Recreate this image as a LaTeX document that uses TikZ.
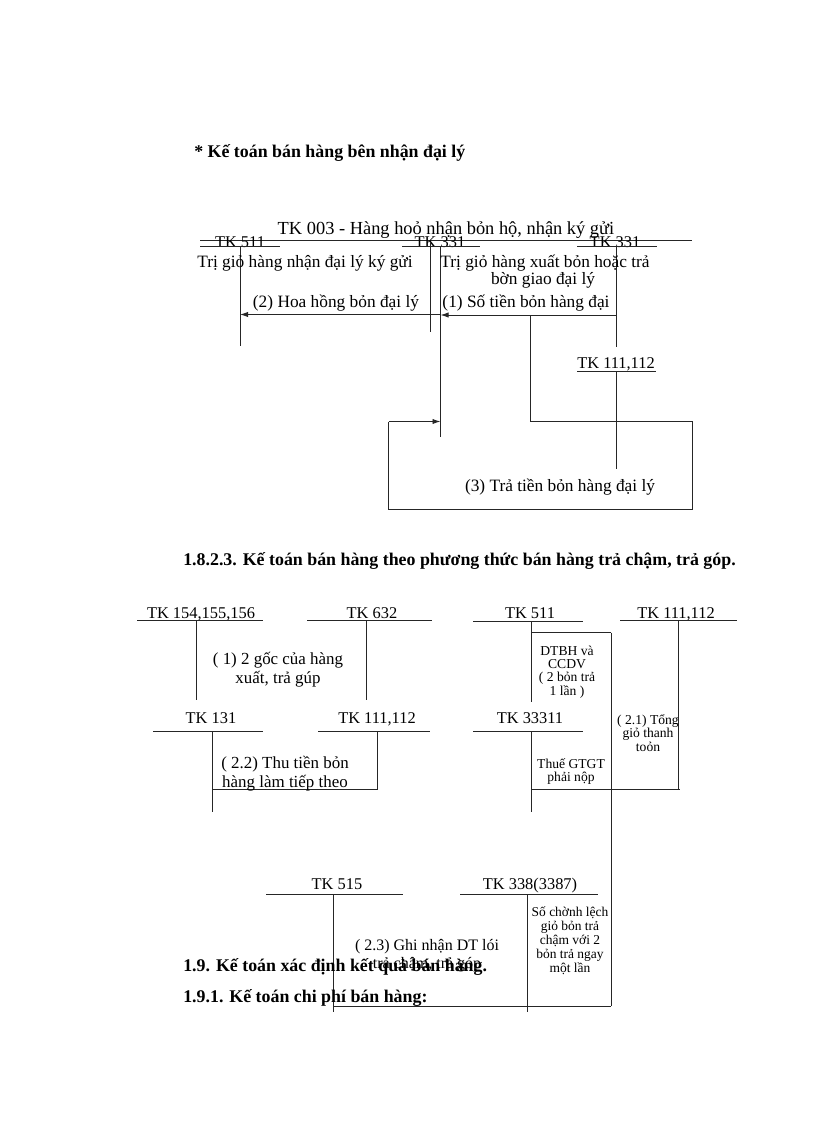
\documentclass[tikz,border=0pt]{standalone}
\usepackage{fontspec}
\setmainfont{Liberation Serif}
\usetikzlibrary{arrows.meta}
\begin{document}
\begin{tikzpicture}[x=0.75pt,y=-0.75pt,
  ln/.style={line width=0.7pt,draw=black!85},
  arr/.style={ln,-{Latex[length=6pt,width=4pt]}},
  one/.style={inner sep=0pt,text height=0.85em,text depth=0.25em,yshift=-1.2pt},
  lbl/.style={one,font=\fontsize{12.3}{14}\selectfont},
  big/.style={one,font=\fontsize{13}{15}\selectfont},
  sml/.style={inner sep=0pt,align=center,font=\fontsize{10.2}{10}\selectfont},
  mid/.style={inner sep=0pt,align=center,font=\fontsize{12.7}{14.3}\selectfont},
  head/.style={one,anchor=west,font=\fontsize{13.4}{15}\selectfont\bfseries}]
\useasboundingbox (0,0) rectangle (816,1123);
\fill[white] (0,0) rectangle (816,1123);

% ---------- headings ----------
\node[head] (h1) at (194,152) {* Kế toán bán hàng bên nhận đại lý};
\node[head] (h2) at (183,560) {1.8.2.3. Kế toán bán hàng theo phương thức bán hàng trả chậm, trả góp.};

% ---------- top diagram ----------
\node[big,font=\fontsize{13.8}{15}\selectfont] (t003) at (446,229) {TK 003 - Hàng hoỏ nhận bỏn hộ, nhận ký gửi};
\draw[ln] (200,240.5) coordinate (l003a) -- (692,240.5) coordinate (l003b);
\node[lbl] (t511) at (240,242) {TK 511};
\node[lbl] (t331a) at (440,242) {TK 331};
\node[lbl] (t331b) at (615,242) {TK 331};
\draw[ln] (200,246.5) -- (280,246.5);
\draw[ln] (402,246.5) -- (480,246.5);
\draw[ln] (577,246.5) -- (657,246.5);
\coordinate (v511t) at (240,246.5); \coordinate (v511b) at (240,346);
\draw[ln] (v511t) -- (v511b);
\draw[ln] (430.5,242) -- (430.5,332);
\coordinate (v331t) at (440.5,246.5); \coordinate (v331b) at (440.5,437);
\draw[ln] (v331t) -- (v331b);
\coordinate (r331t) at (616,246.5); \coordinate (r331b) at (616,347);
\draw[ln] (r331t) -- (r331b);

\node[big] (d1) at (305,262) {Trị giỏ hàng nhận đại lý ký gửi};
\node[big] (d2) at (545,262) {Trị giỏ hàng xuất bỏn hoặc trả};
\node[big] (d3) at (543,279) {bờn giao đại lý};
\node[big] (d4) at (336,302) {(2) Hoa hồng bỏn đại lý};
\node[big] (d5) at (526,302) {(1) Số tiền bỏn hàng đại};

\coordinate (a1s) at (616,315); \coordinate (a1e) at (440.5,315);
\draw[arr] (a1s) -- (a1e);
\coordinate (a2s) at (440.5,314.5); \coordinate (a2e) at (240,314.5);
\draw[arr] (a2s) -- (a2e);

\node[lbl] (t111a) at (616,363) {TK 111,112};
\draw[ln] (577,371) -- (656,371);
\draw[ln] (616,371) -- (616,469);

\coordinate (p0) at (530.5,315);
\coordinate (p1) at (530.5,421.5);
\coordinate (p2) at (692.5,421.5);
\coordinate (p3) at (692.5,509.5);
\coordinate (p4) at (388.5,509.5);
\coordinate (p5) at (388.5,421.5);
\coordinate (p6) at (440.5,421.5);
\draw[ln] (p0) -- (p1) -- (p2) -- (p3) -- (p4) -- (p5);
\draw[arr] (p5) -- (p6);
\node[big] (d6) at (560,486) {(3) Trả tiền bỏn hàng đại lý};

% ---------- middle diagram ----------
\node[lbl] (m154) at (201,613) {TK 154,155,156};
\draw[ln] (137,620) -- (263,620);
\node[lbl] (m632) at (372,613) {TK 632};
\draw[ln] (307,620) -- (432,620);
\draw[ln] (196.5,620) -- (196.5,700);
\draw[ln] (366,620) -- (366,700);
\node[mid] (m1) at (278,669.5) {( 1) 2 gốc của hàng\\xuất, trả gúp};

\node[lbl] (m131) at (211,718) {TK 131};
\draw[ln] (153,731) -- (263,731);
\node[lbl] (m111) at (377,718) {TK 111,112};
\draw[ln] (318,731) -- (430,731);
\draw[ln] (212,731) -- (212,812);
\draw[ln] (377,731) -- (377,789.5);
\draw[ln] (212,789.5) -- (377,789.5);
\node[mid] (m2) at (285,774) {( 2.2) Thu tiền bỏn\\hàng làm tiếp theo};

\node[lbl] (m511) at (530,613) {TK 511};
\draw[ln] (473,621) -- (583,621);
\node[lbl] (m111b) at (676,613) {TK 111,112};
\draw[ln] (620,620) -- (737,620);
\draw[ln] (531.5,621) -- (531.5,702);
\draw[ln] (531.5,632.5) -- (611,632.5);
\draw[ln] (611,632.5) -- (611,1006);
\node[sml] (m3) at (567,672) {DTBH và\\CCDV\\( 2 bỏn trả\\1 lần )};

\node[lbl] (m333) at (530,718) {TK 33311};
\draw[ln] (473,731) -- (583,731);
\draw[ln] (531.5,731) -- (531.5,812);
\draw[ln] (678.5,620) -- (678.5,789);
\draw[ln] (531.5,789.5) -- (680,789.5);
\node[sml] (m4) at (648,733) {( 2.1) Tổng\\giỏ thanh\\toỏn};
\node[sml] (m5) at (571,771.5) {Thuế GTGT\\phải nộp};

% ---------- bottom diagram ----------
\node[lbl] (b515) at (337,884) {TK 515};
\draw[ln] (266,894.5) -- (403,894.5);
\node[lbl] (b338) at (530,884) {TK 338(3387)};
\draw[ln] (460,894.5) -- (598,894.5);
\draw[ln] (333.5,894.5) -- (333.5,1012);
\draw[ln] (527.5,894.5) -- (527.5,1012);
\draw[ln] (333.5,1006) -- (611,1006);
\node[sml,font=\fontsize{10.1}{10.6}\selectfont] (b1) at (570,940.5) {Số chờnh lệch\\giỏ bỏn trả\\chậm với 2\\bỏn trả ngay\\một lần};
\node[mid,font=\fontsize{12}{13.3}\selectfont] (b2) at (427,955.5) {( 2.3) Ghi nhận DT lói\\trả chậm, trả góp};

\node[head] (h3) at (183,966) {1.9. Kế toán xác định kết quả bán hàng.};
\node[head] (h4) at (183,997) {1.9.1. Kế toán chi phí bán hàng:};
\end{tikzpicture}
\end{document}
